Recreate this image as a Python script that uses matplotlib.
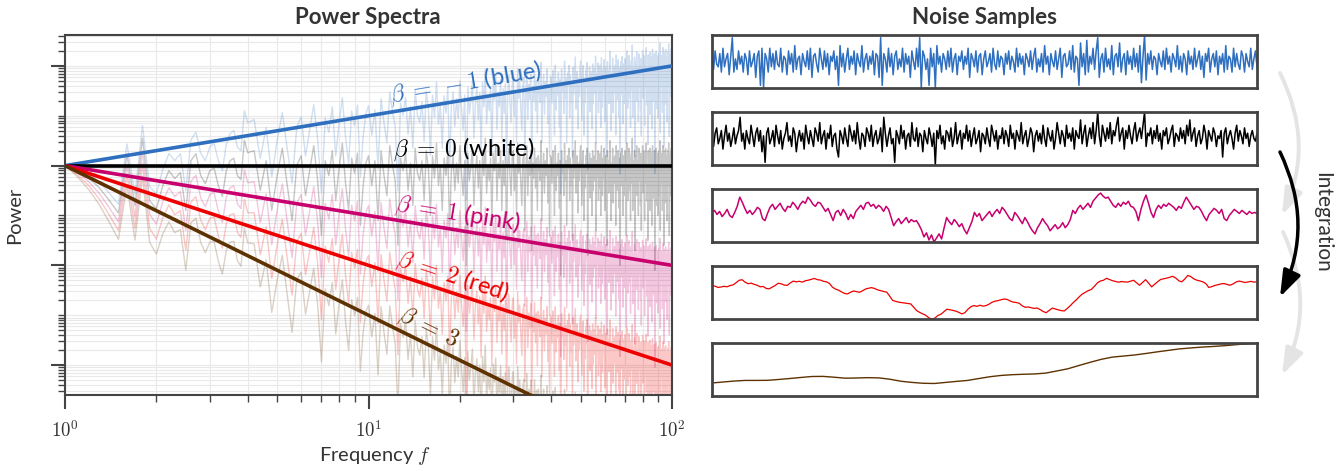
import numpy as np
import matplotlib
matplotlib.use('Agg')
import matplotlib.pyplot as plt
from matplotlib.patches import FancyArrowPatch
from matplotlib.ticker import FixedLocator, LogLocator, NullFormatter
from matplotlib.transforms import ScaledTranslation

plt.rcParams['font.family'] = ['Lato', 'DejaVu Sans']
plt.rcParams['mathtext.fontset'] = 'cm'

# ---------------- data ----------------
betas = [-1, 0, 1, 2, 3]
beta_labels = [r'$\beta\;=\;-1$ (blue)', r'$\beta\;=\;0$ (white)', r'$\beta\;=\;1$ (pink)',
               r'$\beta\;=\;2$ (red)', r'$\beta\;=\;3$']
colors = ['#2E6FC0', '#000000', '#C8006E', '#EE0000', '#5E3200']

spec_freq = np.concatenate([np.arange(1.0, 3.95, 0.1),
                            np.arange(4.0, 9.95, 0.2),
                            np.arange(10.0, 100.01, 0.25)])
# shared log10 spectral multiplier
spec_log_mult = [
    0, -0.1, -0.25, -0.45, -0.7, -0.95, 0.23, -0.8, 0.55, -0.7,
    -0.87, -0.4, -0.1, -0.26, -0.14, -0.9, 0.1, 0.24, -0.2, -0.36,
    -0.1, -0.05, -0.4, -0.62, -0.1, 0.1, 0.15, -0.2, -0.28, 0.51,
    0.26, 0.3, -0.5, 0.1, -0.9, -0.2, 0.35, -0.4, -1.1, 0.0,
    0.2, -0.6, -0.1, 0.4, -0.3, -1.4, 0.1, -0.2, 0.3, -0.7,
    -0.05, 0.45, -0.35, -0.9, 0.15, -0.15, 0.25, -1.2, -0.4, 0.05,
    0.2, -0.4, 0.1, -1.1, 0.3, -0.2, -0.6, 0.4, 0.0, -0.3, -1.6, 0.15, -0.1, 0.25, -0.5, 0.05, -0.8, 0.35, -0.15, -0.3,
    0.1, -0.7, 0.3, -0.05, -1.0, 0.2, -0.25, 0.45, -0.4, 0.0, -0.9, 0.15, -0.2, 0.3, -1.3, -0.1, 0.2, -0.5, 0.05, -0.35,
    0.4, -0.15, -0.6, 0.1, -2.0, 0.25, -0.3, 0.0, 0.35, -0.8, -0.1, 0.2, -0.45, 0.1, -1.1, 0.3, -0.2, 0.55, -0.55, 0.0,
    -0.3, 0.15, -1.2, 0.25, -0.1, 0.4, -0.7, 0.05, -0.25, 0.3, -0.9, 0.1, -0.4, 0.2, -1.5, 0.0, 0.35, -0.2, -0.6, 0.15,
    0.3, -0.5, 0.0, -1.0, 0.45, -0.15, 0.2, -0.35, -0.8, 0.1, 0.25, -1.3, -0.05, 0.4, -0.6, 0.1, -0.2, 0.3, -1.7, 0.05,
    -0.25, 0.35, -0.45, 0.15, -0.9, 0.2, 0.0, -0.3, 0.5, -1.1, -0.1, 0.25, -0.55, 0.1, -0.2, 0.35, -0.75, 0.0, -1.4, 0.2,
    0.15, -0.35, 0.3, -0.1, -1.0, 0.4, -0.5, 0.05, -0.2, 0.25, -0.85, 0.1, -2.2, 0.3, -0.15, 0.0, -0.6, 0.45, -0.3, 0.1,
    -1.2, 0.2, -0.05, 0.35, -0.7, 0.15, -0.4, 0.0, -1.5, 0.3, -0.25, 0.1, 0.5, -0.55, -0.1, 0.2, -0.95, 0.05, -0.3, 0.25,
    0.4, -0.2, -0.8, 0.1, 0.3, -1.1, 0.0, -0.45, 0.2, -0.15, 0.35, -1.8, 0.05, -0.35, 0.25, -0.65, 0.15, -0.1, -1.0, 0.3,
    -0.5, 0.2, 0.0, -0.3, 0.45, -1.3, 0.1, -0.2, 0.3, -0.7, 0.05, -0.45, 0.25, -1.0, 0.4, -0.1, -0.6, 0.15, -0.25, 0.35,
    -0.9, 0.0, 0.2, -0.4, -1.6, 0.3, -0.15, 0.1, -0.55, 0.25, 0.5, -0.3, -1.1, 0.05, -0.2, 0.35, -0.75, 0.15, 0.0, -0.35,
    0.2, -1.2, 0.4, -0.1, -0.5, 0.1, 0.3, -0.85, -0.25, 0.15, -2.0, 0.25, 0.0, -0.4, 0.35, -0.15, -1.0, 0.2, -0.6, 0.05,
    0.3, -0.3, 0.1, -1.4, 0.45, -0.05, -0.7, 0.2, -0.2, 0.35, -0.5, 0.0, -1.1, 0.15, 0.25, -0.35, 0.55, -0.9, 0.1, -0.15,
    -0.45, 0.3, -1.7, 0.05, 0.2, -0.25, 0.4, -0.6, 0.1, -0.1, -1.0, 0.35, -0.3, 0.15, 0.0, -0.8, 0.25, -1.3, 0.1, -0.2,
    0.4, -0.55, 0.05, 0.3, -0.15, -1.1, 0.2, -0.35, 0.1, 0.45, -0.7, 0.0, -0.25, -1.5, 0.3, -0.1, 0.15, -0.5, 0.35, -0.9,
    0.1, -0.2, 0.25, -1.2, 0.0, 0.4, -0.4, 0.15, -0.65, -0.1, 0.3, -2.1, 0.2, -0.3, 0.05, 0.35, -0.8, -0.15, 0.25, -1.0,
    0.15, -0.45, 0.3, 0.0, -0.6, 0.5, -1.3, 0.1, -0.2, 0.25, -0.35, 0.05, -0.9, 0.4, -0.1, 0.2, -1.6, 0.0, -0.5, 0.3,
    -0.25, 0.35, -0.75, 0.1, 0.2, -1.1, -0.05, 0.3, -0.4, 0.15, 0.45, -0.3, -1.4, 0.05, 0.25, -0.6, 0.1, -0.15, 0.35, -0.95,
    0.1,
]

noise_blue = [
    2, -3, 4, -1, -2, 3, -4, 5, -2, 1, 3, -5, 2, 9, -4, 1, -3, 4, -1, 2,
    -4, 3, 1, -5, 4, -2, 0, 3, -6, 2, 4, -9, 5, -10, 3, 1, -4, 5, -2, 3,
    -3, 4, -1, -2, 5, -4, 2, 1, -5, 4, -1, 3, -4, 6, -3, 1, 2, -5, 3, 0,
    -2, 4, -3, 5, -6, 2, 3, -1, -4, 5, 1, -3, 4, -2, 3, -5, 2, 0, 4, -3,
    2, -9, 6, -2, 3, -4, 1, 5, -3, 2, -1, 4, -5, 3, 0, -2, 6, -4, 1, 3,
    -3, 2, -1, 4, -5, 3, 2, -6, 9, -9, 3, 1, -4, 5, -2, 3, -5, 2, 4, -3,
    1, -2, 5, -4, 3, -1, 2, -6, 4, 0, -3, 5, -2, 9, -10, 4, 2, -3, 1, -9,
    5, -2, 3, -10, 6, -1, 2, -4, 3, 1, -3, 4, -2, 5, -4, 1, 3, -5, 2, 0,
    4, -3, 2, -1, 5, -6, 3, 1, -2, 4, -4, 2, 3, -5, 1, 4, -2, 0, 3, -4,
    5, -1, -3, 4, -2, 2, 1, -5, 3, -1, 4, -3, 2, 0, -4, 5, -2, 3, -1, 2,
    -5, 3, 1, -2, 4, -3, 2, 5, -4, 1, -2, 3, -4, 6, -1, 2, -5, 3, 0, -2,
    4, -3, 1, 5, -6, 2, 3, -2, -1, 4, -3, 6, -4, 2, 1, -9, 7, -2, 3, -5,
    8, -4, 2, -1, 5, -3, 4, 9, -6, 1, 3, -4, 5, -2, 1, -3, 6, -5, 2, 3,
    -2, 7, -4, 1, 3, -5, 4, -1, 2, -3, 5, -2, 3, -4, 6, -8, 2, 10, -7, 3,
    -1, 4, -3, 2, 1, -5, 3, 0, -2, 4, -3, 5, -1, 2, -4, 3, 1, -2, 6, -3,
    2, -4, 3, 1, -5, 4, -1, 2, -3, 5, -2, 1, 4, -3, 2, -6, 3, 0, 5, -4,
    1, 3, -2, 4, -5, 2, -1, 3, -4, 6, -3, 2, 1, -4, 5, -2, 3, -1, -3, 4,
    2, -4, 3, 0, -2, 5, -3, 1, 4, -2,
]

noise_white = [
    1, -3, 2, 4, -2, 0, 3, -4, 1, 5, -1, 2, -3, 0, 4, -2, 1, 3, 8, -1,
    2, -4, 3, 0, -2, 5, 1, -3, 2, 4, -1, 3, -5, 1, -9, 2, 4, -2, 0, 3,
    -3, 5, 1, -2, 3, -4, 0, 2, 6, -1, 1, -3, 4, 2, -5, 0, 3, -1, 2, -4,
    5, 1, -2, 3, 0, -3, 4, 2, -1, 6, -2, 1, 3, -4, 2, 0, 5, -3, 1, 2,
    -4, -7, 3, 1, -2, 4, 0, -3, 5, 2, -1, 3, -2, 6, 0, -4, 2, 1, -3, 4,
    2, -1, 5, -3, 1, 3, -2, 0, 4, -5, 8, 2, -3, 1, 4, -2, 0, -9, 3, 1,
    -2, 5, 0, 3, -4, 1, 2, -3, 6, 0, -1, 4, -3, 2, 1, -5, 3, 0, -2, 4,
    1, -3, 2, -10, 3, 0, 5, -2, 1, -4, 3, 2, -1, 4, -3, 0, 6, -2, 1, 3,
    -4, 2, 0, 5, -1, 3, -3, 1, 4, -2, 0, 3, -5, 2, 1, -2, 4, 0, -3, 5,
    2, -1, 3, -4, 1, 0, 4, -2, 3, 1, -3, 5, 0, 2, -4, 3, 1, -1, 6, -2,
    1, 3, -3, 0, 4, 2, -5, 1, 3, -1, 2, -2, 5, 0, -3, 4, 1, -1, 3, -4,
    0, 6, 2, -2, 3, 1, -3, 5, 0, 2, -1, 4, -4, 3, 1, 0, 7, -2, 2, 5,
    -3, 1, 4, 0, 6, -2, 3, 10, 1, -3, 5, 2, -1, 4, 0, 6, -2, 3, 1, 5,
    8, -1, 2, 4, -4, 3, 0, 5, 1, -2, 3, 6, -1, 2, 4, 0, 5, 10, -3, 2,
    1, 4, -2, 3, 0, 5, -1, 2, -4, 3, 1, 4, -2, 0, 3, 5, -3, 2, 1, -1,
    4, 0, 3, -2, 5, 1, 7, -1, 2, 4, -3, 1, 3, -2, 0, 5, 2, -4, 3, 1,
    -1, 4, 2, -3, 1, 0, 3, -7, 2, 4, -2, 1, 3, 0, -4, 2, 5, -1, 3, 1,
    -2, 4, 0, 2, -3, 1, 3, 0, -1, 2,
]

noise_pink = [
    3, 5, 1, 4, -1, 2, 6, 0, -2, 3, 9, 18, 13, 7, 2, 5, 1, 4, 8,
    6, -3, -5, 2, 8, 11, 6, 9, 12, 7, 4, 9, 8, 13, 10, 6, 11, 14, 12, 18, 15, 11, 9, 13, 12, 8, 4, 7,
    1, -5, 3, 5, 0, 6, 2, -4, 1, -3, 4, 7,
    10, 6, 12, 13, 9, 11, 7, 10, 8, 4, 9, 6,
    -2, -10, -6, -3, -8, -5, -2, -7, -4, -6, -5, -9,
    -14, -21, -17, -24, -19, -26, -22, -18, -23, -12,
    -2, -6, -9, -4, -7, -11, -8, -14,
    -18, -12, -6, 3,
    -1, 2, -5, -2, 1, 4, -1, 3, 6, 2, 8, 5, 1, -3,
    -5, 3, 0, -4, -8, -2, -6, -11, -15, -18, -12, -8, -3, -7, -10, -15, -12, -9, -13, -11, -7, -12, -9, -4,
    5, 2, 7, 10, 6, 9, 12, 8, 14, 17, 20, 22,
    19, 17, 18, 14, 10, 8, 12, 9, 13, 11, 14, 9, 8, 4, -5, 6, 14, 20, 12, 3,
    -2, 6, 10, 7, 11, 9, 12, 10, 8, 5, 9, 7, 13, 18, 14, 10, 6, 9, 8, 4,
    -1, -5, 1, 4, 7, 5, 2, 6, -3, -5, 0, 3, 6, 4, 2, 5, 3, 1, 4, 2, 3, 2,
]

noise_red = [
    7.0, 6.2, 5.0, 5.4, 6.1, 5.6, 6.8, 7.5, 9.6, 12.0,
    12.5, 10.1, 8.6, 9.2, 8.0, 7.1, 5.6, 5.9, 4.0, 3.6,
    5.2, 6.9, 9.1, 8.5, 7.3, 7.0, 9.4, 11.2, 10.4, 11.0,
    10.2, 11.5, 12.1, 12.9, 13.8, 12.6, 12.2, 11.0, 10.5, 8.9,
    5.2, 3.4, 2.3, 0.6, -0.9, -1.4, 0.2, 1.5, 0.8, 0.2,
    1.7, 3.4, 4.2, 4.8, 3.9, 2.6, 1.8, 1.0, 0.4, -3.5,
    -7.8, -8.6, -9.5, -9.9, -10.2, -10.8, -11.2, -14.5, -17.8, -19.6,
    -21.0, -22.4, -24.8, -26.0, -25.2, -22.6, -21.4, -18.9, -16.4, -16.9,
    -17.6, -18.3, -19.5, -21.0, -19.8, -16.4, -13.9, -12.8, -13.6, -12.5,
    -13.4, -12.9, -11.5, -9.6, -8.5, -8.0, -7.1, -6.4, -6.8, -8.3,
    -9.4, -9.8, -10.5, -13.0, -14.5, -14.2, -14.9, -15.6, -15.2, -16.8,
    -18.7, -19.8, -17.6, -15.3, -16.2, -17.0, -17.8, -18.1, -15.6, -12.9,
    -9.8, -7.2, -4.1, -1.5, 0.2, 1.9, 3.0, 6.1, 9.4, 11.3,
    12.0, 13.9, 12.8, 11.6, 10.8, 10.1, 10.8, 10.4, 10.2, 11.1,
    12.0, 9.6, 7.1, 9.9, 12.6, 9.2, 5.5, 8.1, 10.6, 12.8,
    13.4, 14.1, 14.9, 15.9, 14.2, 11.6, 10.4, 13.2, 16.7, 15.6,
    13.4, 12.1, 11.4, 10.5, 8.8, 4.9, 5.8, 6.9, 7.6, 8.4,
    8.8, 7.9, 7.1, 8.3, 10.2, 11.2, 10.6, 9.8, 10.4, 10.9,
    10.2, 10.5,
]

noise_brown = [
    -12.7, -11.8, -10.9, -10.3, -10.3, -10.2, -9.4, -8.5, -7.5, -6.6,
    -6.5, -7.3, -8.2, -8.0, -7.7, -7.9, -9.2, -11.1, -12.2, -13.0,
    -13.2, -12.2, -11.2, -10.3, -8.5, -6.8, -5.6, -4.9, -4.5, -4.2,
    -3.4, -1.4, 0.7, 3.8, 6.8, 9.6, 11.7, 12.7, 13.7, 15.1,
    16.6, 18.0, 19.4, 20.3, 21.1, 21.7, 22.4, 23.3, 24.2, 25.0,
]

noise_series = [noise_blue, noise_white, noise_pink, noise_red, noise_brown]
noise_lw = [1.1, 1.1, 1.1, 0.9, 1.0]

# ---------------- figure ----------------
W, H = 1343, 471
fig = plt.figure(figsize=(W / 100, H / 100), dpi=100)

def fx(px):
    return px / W

def fy(py):
    return 1 - py / H

spine_c = '#444444'
text_c = '#333333'

ax = fig.add_axes([fx(65), fy(395), fx(672) - fx(65), fy(35) - fy(395)])
ax.set_xscale('log')
ax.set_yscale('log')
ax.set_xlim(1, 100)
ax.set_ylim(10 ** -4.6, 10 ** 2.62)

n = min(len(spec_freq), len(spec_log_mult))
f = spec_freq[:n]
mult = 10.0 ** np.asarray(spec_log_mult[:n])
for b, c in zip(betas, colors):
    ax.plot(f, f ** (-float(b)) * mult, color=c, lw=1.0, alpha=0.22, zorder=2)

fl = np.array([1.0, 100.0])
for b, c in zip(betas, colors):
    ax.plot(fl, fl ** (-float(b)), color=c, lw=2.6, zorder=4, solid_capstyle='butt')

ax.xaxis.set_major_locator(FixedLocator([1, 10, 100]))
ax.set_xticklabels([r'$10^{0}$', r'$10^{1}$', r'$10^{2}$'])
ax.xaxis.set_minor_locator(LogLocator(base=10, subs=np.arange(2, 10), numticks=20))
ax.xaxis.set_minor_formatter(NullFormatter())
ax.yaxis.set_major_locator(FixedLocator([1e-4, 1e-2, 1, 1e2]))
ax.yaxis.set_minor_locator(LogLocator(base=10, subs=np.arange(1, 10), numticks=40))
ax.yaxis.set_major_formatter(NullFormatter())
ax.yaxis.set_minor_formatter(NullFormatter())
ax.tick_params(which='major', length=10, width=1.5, color=spine_c, labelsize=13.5,
               labelcolor=text_c, pad=7)
ax.tick_params(which='minor', length=5, width=1.0, color=spine_c)
ax.grid(True, which='both', color='#e9e9e9', lw=0.8)
ax.set_axisbelow(True)
for s in ax.spines.values():
    s.set_color(spine_c)
    s.set_linewidth(1.5)

# line labels
lab_f = 12.0
d_px = 10
for b, c, lab in zip(betas, colors, beta_labels):
    y0 = lab_f ** (-float(b))
    p1 = ax.transData.transform((lab_f, y0))
    p2 = ax.transData.transform((lab_f * 2, (lab_f * 2) ** (-float(b))))
    ang = np.arctan2(p2[1] - p1[1], p2[0] - p1[0])
    ox, oy = -d_px * np.sin(ang), d_px * np.cos(ang)
    tr = ax.transData + ScaledTranslation(ox / 100, oy / 100, fig.dpi_scale_trans)
    ax.text(lab_f, y0, lab, rotation=np.degrees(ang), rotation_mode='anchor',
            ha='left', va='baseline', transform=tr, color=c, fontsize=17, zorder=5)

fig.text(fx(368), fy(17), 'Power Spectra', ha='center', va='center', fontsize=16,
         fontweight='bold', color=text_c)
fig.text(fx(375), fy(456), 'Frequency $f$', ha='center', va='center', fontsize=14.5, color=text_c)
fig.text(fx(15), fy(215), 'Power', ha='center', va='center', rotation=90, fontsize=14.5, color=text_c)

# noise sample panels
tops = [35, 112, 189, 266, 343]
ph = 53
for top, ser, c, lw in zip(tops, noise_series, colors, noise_lw):
    a = fig.add_axes([fx(712), fy(top + ph), fx(1257) - fx(712), fy(top) - fy(top + ph)])
    y = np.asarray(ser, dtype=float)
    x = np.arange(len(y))
    a.plot(x, y, color=c, lw=lw)
    a.set_xlim(0, len(y) - 1)
    m = np.abs(y).max()
    a.set_ylim(-m, m)
    a.set_xticks([])
    a.set_yticks([])
    for s in a.spines.values():
        s.set_color(spine_c)
        s.set_linewidth(2.0)

fig.text(fx(984), fy(17), 'Noise Samples', ha='center', va='center', fontsize=16,
         fontweight='bold', color=text_c)

# integration arrows
arrows = [((1280, 73), (1282, 215), '#e4e4e4', 2.8),
          ((1283, 232), (1282, 375), '#e4e4e4', 2.8),
          ((1280, 152), (1280, 297), '#000000', 2.5)]
for (x1, y1), (x2, y2), c, lw in arrows:
    arr = FancyArrowPatch((fx(x1), fy(y1)), (fx(x2), fy(y2)), transform=fig.transFigure,
                          connectionstyle='arc3,rad=-0.24',
                          arrowstyle='-|>,head_length=0.8,head_width=0.28',
                          mutation_scale=20, color=c, lw=lw, shrinkA=0, shrinkB=0)
    fig.add_artist(arr)

fig.text(fx(1322), fy(222), 'Integration', ha='center', va='center', rotation=-90,
         fontsize=15, color=text_c)

fig.savefig('out.png', dpi=100)
